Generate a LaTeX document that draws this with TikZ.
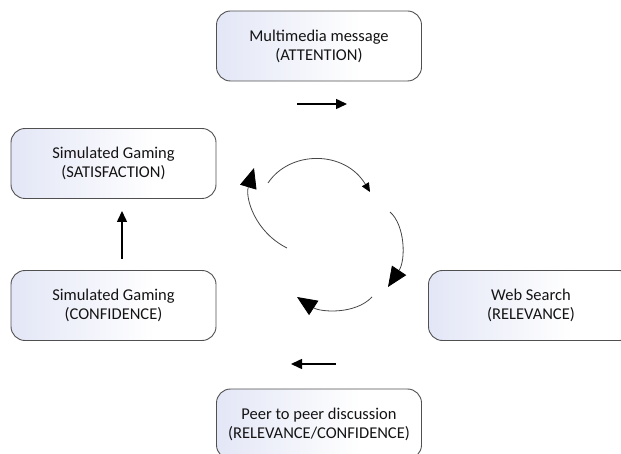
\documentclass[tikz,border=0pt]{standalone}
\usepackage{fontspec}
\setmainfont{Carlito}
\usetikzlibrary{arrows.meta}
\definecolor{boxtint}{RGB}{227,230,246}
\definecolor{boxedge}{RGB}{80,80,80}
\definecolor{inktext}{RGB}{20,20,20}
\definecolor{cycleink}{RGB}{70,70,70}
% soft lavender on the left fading to white on the right
\pgfdeclarehorizontalshading{stagefade}{100bp}{%
  color(0bp)=(boxtint); color(25bp)=(boxtint);
  color(60bp)=(white); color(100bp)=(white)}
\tikzset{
  stagebox/.style={draw=boxedge, line width=0.9pt, rounded corners=14pt,
    minimum width=205pt, minimum height=70pt, align=center,
    shade, shading=stagefade, shading angle=0,
    text=inktext, font=\fontsize{16.5}{19}\selectfont},
  flowarrow/.style={line width=1.5pt, -{Triangle[length=11pt,width=10pt]}},
  cyclearc/.style={cycleink, line width=0.8pt},
  bighead/.style={-{Triangle[length=20pt,width=17pt,color=black]}},
  smallhead/.style={-{Triangle[length=9pt,width=8pt,color=black]}}
}
\begin{document}
\begin{tikzpicture}[x=1pt, y=-1pt]
  \useasboundingbox (0,0) rectangle (621,454);
  \clip (0,0) rectangle (621,454);

  % stages of the learning cycle
  \node[stagebox] (att)  at (319,46)    {Multimedia message\\(ATTENTION)};
  \node[stagebox] (sat)  at (113.5,163.5) {Simulated Gaming\\(SATISFACTION)};
  \node[stagebox] (conf) at (113.5,305.5) {Simulated Gaming\\(CONFIDENCE)};
  \node[stagebox] (web)  at (531,305.5) {Web Search\\(RELEVANCE)};
  \node[stagebox] (peer) at (319,424)   {Peer to peer discussion\\(RELEVANCE/CONFIDENCE)};

  % direction markers between stages
  \coordinate (a1) at (297,104);  \coordinate (a2) at (347,104);
  \coordinate (u1) at (122,259);  \coordinate (u2) at (122,211);
  \coordinate (l1) at (336,364);  \coordinate (l2) at (291,364);
  \draw[flowarrow] (a1) -- (a2);
  \draw[flowarrow] (u1) -- (u2);
  \draw[flowarrow] (l1) -- (l2);

  % central cycle of curved arrows
  \coordinate (ct1) at (268,183); \coordinate (ct2) at (370,192);
  \coordinate (cl1) at (287,248); \coordinate (cl2) at (254,168);
  \coordinate (cr1) at (390,212); \coordinate (cr2) at (388,287);
  \coordinate (cb1) at (372,297); \coordinate (cb2) at (297,297);
  \draw[cyclearc, smallhead] (ct1) .. controls (290,150) and (345,150) .. (ct2);
  \draw[cyclearc, bighead] (cl1) .. controls (255,232) and (245,198) .. (cl2);
  \draw[cyclearc, bighead] (cr1) .. controls (405,225) and (406,260) .. (cr2);
  \draw[cyclearc, bighead] (cb1) .. controls (355,315) and (320,312) .. (cb2);
\end{tikzpicture}
\end{document}
